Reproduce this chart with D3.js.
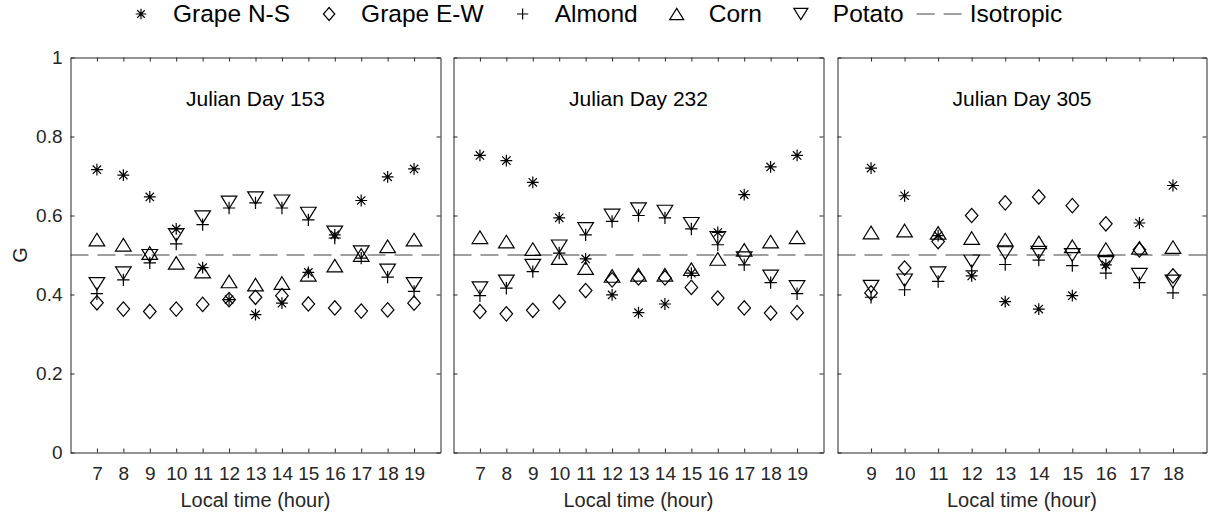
<!DOCTYPE html>
<html>
<head>
<meta charset="utf-8">
<script src="https://cdn.jsdelivr.net/npm/d3@7"></script>
<style>
body { margin: 0; background: #fff; }
svg text { font-family: "Liberation Sans", Arial, Helvetica, sans-serif; }
</style>
</head>
<body>
<div id="chart-area"></div>
<script>

let width = 1211;
let height = 520;

// hours of each day
let hours153 = [7, 8, 9, 10, 11, 12, 13, 14, 15, 16, 17, 18, 19];
let hours232 = [7, 8, 9, 10, 11, 12, 13, 14, 15, 16, 17, 18, 19];
let hours305 = [9, 10, 11, 12, 13, 14, 15, 16, 17, 18];

let yTicks = [0, 0.2, 0.4, 0.6, 0.8, 1];

// G values, Julian day 153
let gns153  = [0.716, 0.702, 0.647, 0.566, 0.468, 0.387, 0.349, 0.378, 0.456, 0.551, 0.638, 0.698, 0.718];
let gew153  = [0.379, 0.363, 0.357, 0.363, 0.375, 0.387, 0.393, 0.397, 0.376, 0.366, 0.358, 0.361, 0.378];
let alm153  = [0.402, 0.437, 0.480, 0.528, 0.577, 0.619, 0.632, 0.619, 0.589, 0.543, 0.492, 0.444, 0.408];
let corn153 = [0.539, 0.526, 0.505, 0.480, 0.458, 0.433, 0.425, 0.429, 0.450, 0.473, 0.500, 0.522, 0.539];
let pot153  = [0.427, 0.454, 0.498, 0.551, 0.596, 0.633, 0.644, 0.636, 0.605, 0.557, 0.507, 0.461, 0.427];

// Julian day 232
let gns232  = [0.752, 0.739, 0.684, 0.594, 0.490, 0.399, 0.354, 0.376, 0.454, 0.557, 0.653, 0.723, 0.752];
let gew232  = [0.357, 0.351, 0.360, 0.381, 0.410, 0.437, 0.442, 0.442, 0.418, 0.391, 0.366, 0.353, 0.354];
let alm232  = [0.397, 0.416, 0.458, 0.505, 0.551, 0.585, 0.600, 0.594, 0.566, 0.526, 0.475, 0.430, 0.402];
let corn232 = [0.545, 0.534, 0.515, 0.492, 0.467, 0.447, 0.450, 0.450, 0.464, 0.490, 0.513, 0.534, 0.545];
let pot232  = [0.416, 0.433, 0.473, 0.522, 0.566, 0.600, 0.616, 0.610, 0.579, 0.543, 0.492, 0.446, 0.419];

// Julian day 305
let gns305  = [0.720, 0.650, 0.549, 0.447, 0.382, 0.363, 0.397, 0.475, 0.581, 0.676];
let gew305  = [0.404, 0.467, 0.534, 0.600, 0.632, 0.647, 0.625, 0.579, 0.513, 0.447];
let alm305  = [0.393, 0.412, 0.433, 0.460, 0.476, 0.487, 0.473, 0.454, 0.430, 0.404];
let corn305 = [0.557, 0.562, 0.556, 0.543, 0.539, 0.532, 0.522, 0.515, 0.518, 0.520];
let pot305  = [0.420, 0.436, 0.454, 0.484, 0.505, 0.506, 0.500, 0.480, 0.450, 0.433];

let isotropic = 0.5;

let series = [
    {key: "gns",  name: "Grape N-S", sym: "star"},
    {key: "gew",  name: "Grape E-W", sym: "diamond"},
    {key: "alm",  name: "Almond",    sym: "plus"},
    {key: "corn", name: "Corn",      sym: "up"},
    {key: "pot",  name: "Potato",    sym: "down"}
];

let panels = [
    {day: 153, hours: hours153, domain: [6, 20], left: 70.5,  right: 440.5,
        values: {gns: gns153, gew: gew153, alm: alm153, corn: corn153, pot: pot153}},
    {day: 232, hours: hours232, domain: [6, 20], left: 453.5, right: 823.5,
        values: {gns: gns232, gew: gew232, alm: alm232, corn: corn232, pot: pot232}},
    {day: 305, hours: hours305, domain: [8, 19], left: 837.5, right: 1206.5,
        values: {gns: gns305, gew: gew305, alm: alm305, corn: corn305, pot: pot305}}
];

// matlab-like marker outlines, centred on 0,0
function markerPath(sym, k) {
    k = k || 1;
    if (sym == "star") {
        let r = 5.9 * k, d = r * 0.7071;
        return "M" + (-r) + ",0H" + r + "M0," + (-r) + "V" + r +
            "M" + (-d) + "," + (-d) + "L" + d + "," + d +
            "M" + (-d) + "," + d + "L" + d + "," + (-d);
    }
    if (sym == "plus") {
        let r = 6.2 * k;
        return "M" + (-r) + ",0H" + r + "M0," + (-r) + "V" + r;
    }
    if (sym == "diamond") {
        let w = 6.3 * k, h = 7.2 * k;
        return "M0," + (-h) + "L" + w + ",0L0," + h + "L" + (-w) + ",0Z";
    }
    if (sym == "up") {
        let w = 7.8 * k, h = 6.3 * k;
        return "M0," + (-h) + "L" + w + "," + h + "L" + (-w) + "," + h + "Z";
    }
    if (sym == "down") {
        let w = 7.8 * k, h = 6.3 * k;
        return "M0," + h + "L" + w + "," + (-h) + "L" + (-w) + "," + (-h) + "Z";
    }
}

let svg = d3.select("#chart-area").append("svg")
    .attr("width", width)
    .attr("height", height);

svg.append("rect").attr("width", width).attr("height", height).attr("fill", "#fff");

let y = d3.scaleLinear()
    .domain([0, 1])
    .range([452.5, 57.5]);

panels.forEach(function(p, i) {

    let x = d3.scaleLinear()
        .domain(p.domain)
        .range([p.left, p.right]);

    let g = svg.append("g");

    g.append("rect")
        .attr("x", p.left).attr("y", y(1))
        .attr("width", p.right - p.left).attr("height", y(0) - y(1))
        .attr("fill", "#fff");

    // isotropic line
    g.append("line")
        .attr("x1", x(p.domain[0]))
        .attr("x2", x(p.domain[1]))
        .attr("y1", y(isotropic))
        .attr("y2", y(isotropic))
        .attr("stroke", "#808080")
        .attr("stroke-width", 1.3)
        .attr("stroke-dasharray", "18,9");

    series.forEach(function(s) {
        let pts = p.hours.map((h, j) => ({hour: h, g: p.values[s.key][j]}));
        g.selectAll("path.m-" + s.key)
            .data(pts)
            .enter().append("path")
            .attr("class", "m-" + s.key)
            .attr("d", markerPath(s.sym))
            .attr("transform", d => "translate(" + x(d.hour) + "," + y(d.g) + ")")
            .attr("fill", "none")
            .attr("stroke", "#000")
            .attr("stroke-width", 1.2);
    });

    let xAxis = d3.axisBottom(x).tickValues(p.hours).tickSize(-4).tickSizeOuter(0).tickPadding(14);
    let xTop = d3.axisTop(x).tickValues(p.hours).tickSize(-4).tickSizeOuter(0).tickFormat("");
    let yAxis = d3.axisLeft(y).tickValues(yTicks).tickSize(-4).tickSizeOuter(0).tickPadding(8)
        .tickFormat(i == 0 ? (d => d) : "");
    let yRight = d3.axisRight(y).tickValues(yTicks).tickSize(-4).tickSizeOuter(0).tickFormat("");

    let axes = [
        g.append("g").attr("transform", "translate(0," + y(0) + ")").call(xAxis),
        g.append("g").attr("transform", "translate(0," + y(1) + ")").call(xTop),
        g.append("g").attr("transform", "translate(" + p.left + ",0)").call(yAxis),
        g.append("g").attr("transform", "translate(" + p.right + ",0)").call(yRight)
    ];
    axes.forEach(a => a
        .attr("color", "#262626")
        .attr("font-size", 19)
        .attr("font-family", "Liberation Sans, Arial, sans-serif"));

    g.append("text")
        .attr("x", (p.left + p.right) / 2)
        .attr("y", 106)
        .attr("text-anchor", "middle")
        .style("font-size", "21px")
        .attr("fill", "#000")
        .text("Julian Day " + p.day);

    g.append("text")
        .attr("x", (p.left + p.right) / 2)
        .attr("y", 507)
        .attr("text-anchor", "middle")
        .style("font-size", "20px")
        .attr("fill", "#262626")
        .text("Local time (hour)");
});

svg.append("text")
    .attr("transform", "translate(27," + y(0.5) + ") rotate(-90)")
    .attr("text-anchor", "middle")
    .style("font-size", "20px")
    .attr("fill", "#262626")
    .text("G");

// legend across the top
let legend = svg.append("g").attr("class", "legend");
let lx = 141;
let ly = 14;

series.forEach(function(s) {
    legend.append("path")
        .attr("d", markerPath(s.sym, 0.9))
        .attr("transform", "translate(" + lx + "," + ly + ")")
        .attr("fill", "none")
        .attr("stroke", "#000")
        .attr("stroke-width", 1.2);
    let t = legend.append("text")
        .attr("x", lx + 32)
        .attr("y", 22)
        .style("font-size", "24.5px")
        .attr("fill", "#000")
        .text(s.name);
    lx = lx + 32 + t.node().getComputedTextLength() + 39;
});

let lineStart = lx - 39 + 13;
legend.append("line")
    .attr("x1", lineStart).attr("x2", lineStart + 45)
    .attr("y1", ly).attr("y2", ly)
    .attr("stroke", "#808080")
    .attr("stroke-width", 1.3)
    .attr("stroke-dasharray", "18,9");

legend.append("text")
    .attr("x", lineStart + 53)
    .attr("y", 22)
    .style("font-size", "24.5px")
    .attr("fill", "#000")
    .text("Isotropic");

</script>
</body>
</html>
